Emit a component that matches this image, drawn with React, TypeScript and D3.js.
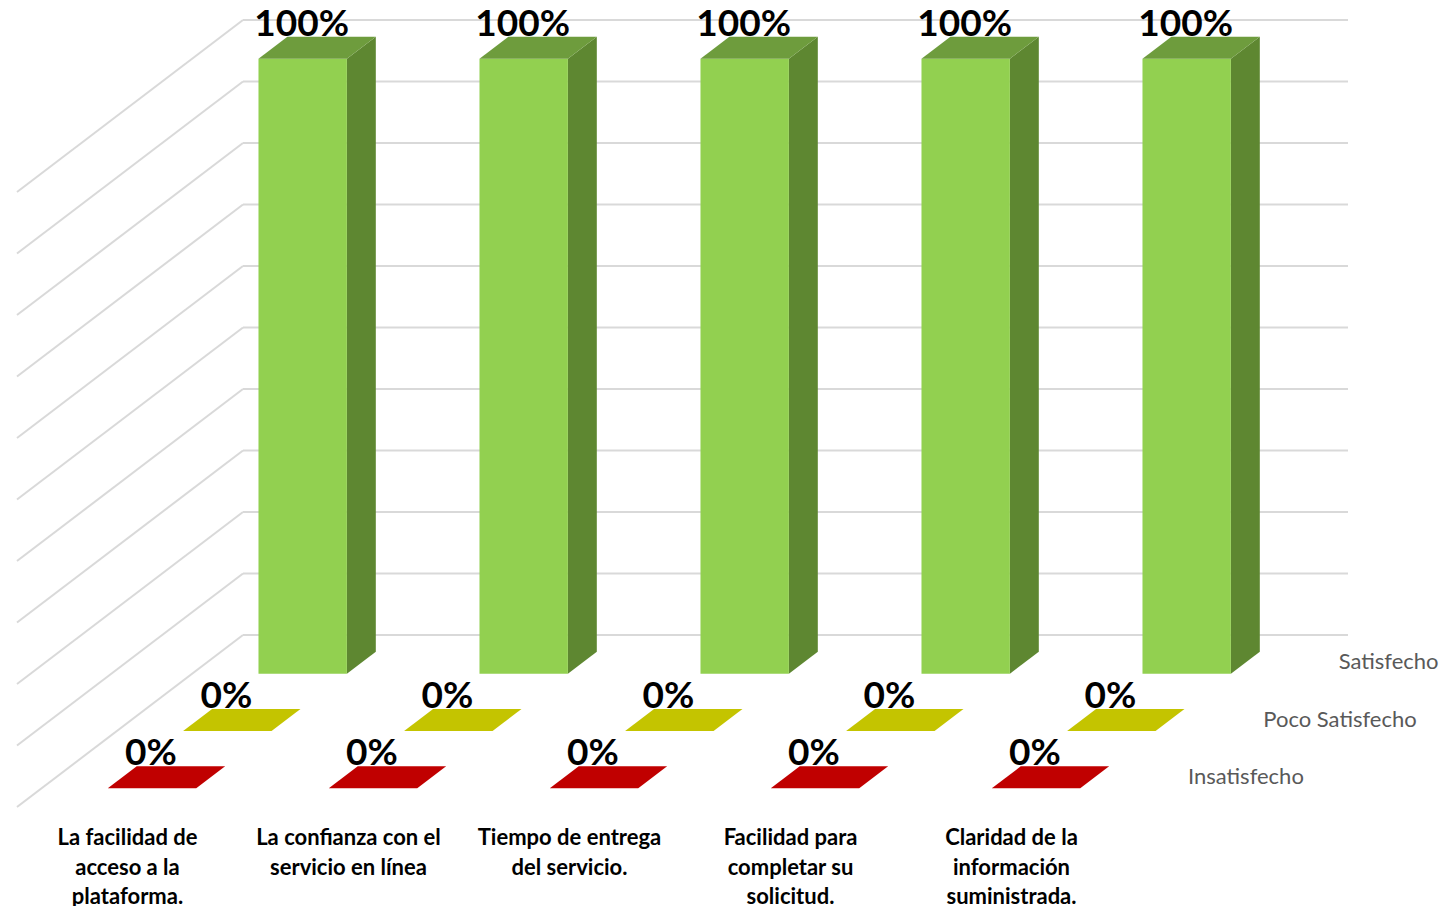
import React from "react";
import * as d3 from "d3";

const categories = [
  "La facilidad de acceso a la plataforma.",
  "La confianza con el servicio en línea",
  "Tiempo de entrega del servicio.",
  "Facilidad para completar su solicitud.",
  "Claridad de la información suministrada.",
];
const categoryLines = [
  ["La facilidad de", "acceso a la", "plataforma."],
  ["La confianza con el", "servicio en línea"],
  ["Tiempo de entrega", "del servicio."],
  ["Facilidad para", "completar su", "solicitud."],
  ["Claridad de la", "información", "suministrada."],
];
const seriesNames = ["Satisfecho", "Poco Satisfecho", "Insatisfecho"];
const satisfecho = [1, 1, 1, 1, 1];
const pocoSatisfecho = [0, 0, 0, 0, 0];
const insatisfecho = [0, 0, 0, 0, 0];
const gridValues = [0, 0.1, 0.2, 0.3, 0.4, 0.5, 0.6, 0.7, 0.8, 0.9, 1];

const seriesValues = [satisfecho, pocoSatisfecho, insatisfecho];
const seriesColors = [
  { front: "#92D050", side: "#5E8731", top: "#6E9C3D" },
  { front: "#C4C400", side: "#9A9A00", top: "#C4C400" },
  { front: "#C00000", side: "#900000", top: "#C00000" },
];

const W = 1443;
const H = 906;
const wallLeft = 243;
const wallRight = 1348;
const floorY = 635;
const topY = 20;
const depth = 172;
const K = 226 / 172; // horizontal shift per unit of depth (oblique projection)

export default function App() {
  const x = d3.scaleBand<string>().domain(categories).range([wallLeft, wallRight]).paddingInner(0.6).paddingOuter(0.3);
  const y = d3.scaleLinear().domain([0, 1]).range([floorY, topY]);
  const z = d3.scaleBand<string>().domain(seriesNames).range([-1, depth - 1]).paddingInner(0.616).paddingOuter(0.308);

  const P = (X: number, v: number, d: number): [number, number] => [X - K * d, y(v) + d];
  const poly = (pts: [number, number][]) => pts.map((p) => p.join(",")).join(" ");

  const bw = x.bandwidth();
  const bd = z.bandwidth();

  const bars: React.ReactNode[] = [];
  const labels: React.ReactNode[] = [];

  // draw back row first so the front rows overlap it
  seriesNames.forEach((s, si) => {
    const d0 = z(s)!;
    const d1 = d0 + bd;
    const col = seriesColors[si];
    categories.forEach((c, ci) => {
      const v = seriesValues[si][ci];
      const X0 = x(c)!;
      const X1 = X0 + bw;
      const key = `${si}-${ci}`;
      if (v > 0) {
        bars.push(
          <polygon key={key + "s"} points={poly([P(X1, 0, d1), P(X1, v, d1), P(X1, v, d0), P(X1, 0, d0)])} fill={col.side} />,
          <polygon key={key + "f"} points={poly([P(X0, 0, d1), P(X0, v, d1), P(X1, v, d1), P(X1, 0, d1)])} fill={col.front} />
        );
      }
      bars.push(
        <polygon key={key + "t"} points={poly([P(X0, v, d1), P(X0, v, d0), P(X1, v, d0), P(X1, v, d1)])} fill={col.top} />
      );
      const [lx] = P((X0 + X1) / 2, v, d1);
      const [, ly] = P(X0, v, d0);
      labels.push(
        <text key={key + "l"} x={lx - 1} y={ly - 1} textAnchor="middle" fontFamily="Lato, sans-serif" fontWeight={700} fontSize={37} fill="#000">
          {d3.format(".0%")(v)}
        </text>
      );
    });
  });

  return (
    <svg width={W} height={H} style={{ position: "absolute", left: 0, top: 0, background: "#fff" }}>
      {/* back wall gridlines */}
      {gridValues.map((g) => (
        <line key={"h" + g} x1={wallLeft} x2={wallRight} y1={y(g)} y2={y(g)} stroke="#D9D9D9" strokeWidth={2} />
      ))}
      {/* side wall gridlines */}
      {gridValues.map((g) => {
        const [ax, ay] = P(wallLeft, g, 0);
        const [bx, by] = P(wallLeft, g, depth);
        return <line key={"d" + g} x1={ax} y1={ay} x2={bx} y2={by} stroke="#D9D9D9" strokeWidth={2} />;
      })}
      {bars}
      {labels}
      {/* series (depth) axis labels */}
      {seriesNames.map((s) => {
        const dc = z(s)! + bd / 2;
        const [sx, sy] = P(wallRight, 0, dc);
        return (
          <text key={s} x={sx + 27} y={sy + 1} dominantBaseline="middle" fontFamily="Lato, sans-serif" fontSize={22} fill="#595959">
            {s}
          </text>
        );
      })}
      {/* category labels */}
      {categories.map((c, ci) => {
        const [cx] = P(x(c)! + bw / 2, 0, depth);
        return (
          <text key={c} x={cx} y={845} textAnchor="middle" fontFamily="Lato, sans-serif" fontWeight={700} fontSize={22} fill="#000">
            {categoryLines[ci].map((ln, li) => (
              <tspan key={li} x={cx} dy={li === 0 ? 0 : 29.5}>
                {ln}
              </tspan>
            ))}
          </text>
        );
      })}
    </svg>
  );
}
